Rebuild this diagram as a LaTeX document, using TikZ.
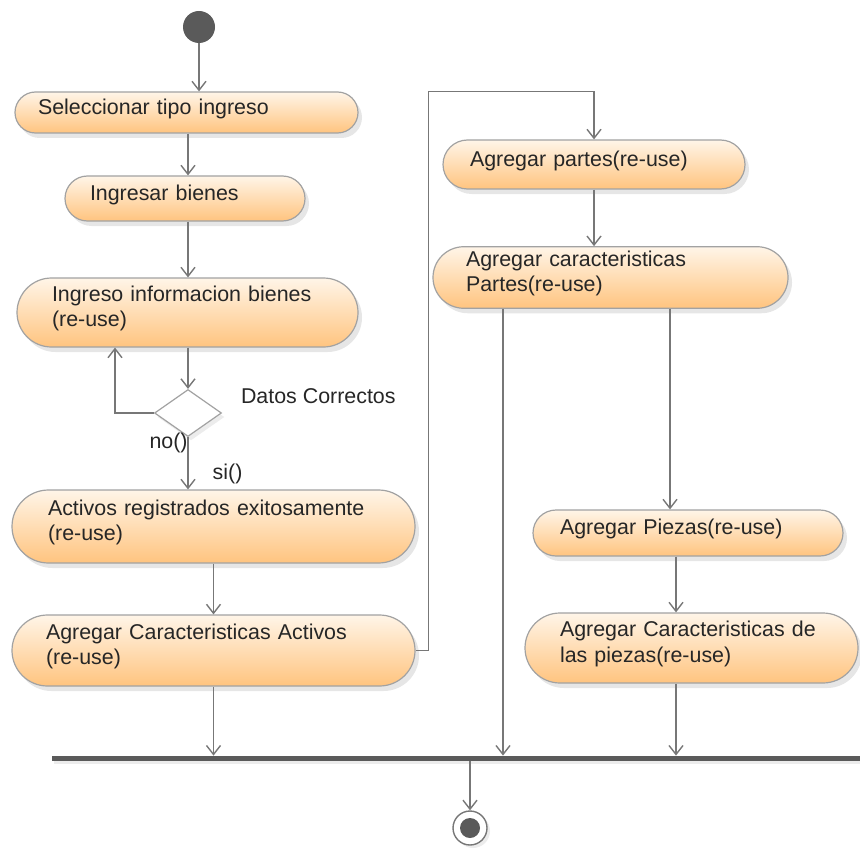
\documentclass[tikz,border=0pt]{standalone}
\usepackage{fontspec}
\setmainfont{Liberation Sans}
\usetikzlibrary{shapes.misc,shapes.geometric,arrows.meta,shadows,positioning}
\definecolor{actline}{HTML}{A2A2A2}
\definecolor{acttop}{HTML}{FFF5E8}
\definecolor{actbot}{HTML}{FFC47F}
\definecolor{flowline}{HTML}{777777}
\definecolor{dotfill}{HTML}{5A5A5A}
\tikzset{every node/.style={font=\fontsize{10.7}{12.8}\selectfont, text=black!85},
  act/.style={rounded rectangle, draw=actline, line width=0.6pt, top color=acttop, bottom color=actbot,
    drop shadow={shadow xshift=2pt, shadow yshift=-2.5pt, opacity=0.2}, align=left, inner xsep=0pt, inner ysep=2pt,
    execute at end node={\par\kern4pt}},
  flow/.style={draw=flowline, line width=0.7pt, -{Straight Barb[length=4.5pt,width=7pt]}},
  lbl/.style={inner sep=0pt}}

\begin{document}
\begin{tikzpicture}[x=0.5pt,y=-0.5pt]
   \useasboundingbox (0,0) rectangle (860,850);
   \node[circle, fill=dotfill, minimum size=16pt, inner sep=0pt] (start) at (199,27) {};
   \node[act, minimum width=171.5pt, minimum height=20.5pt, text width=148.5pt] (sel) at (186.5,112.5) {Seleccionar tipo ingreso};
   \node[act, minimum width=120pt, minimum height=22.5pt, text width=95pt] (ing) at (185,198.5) {Ingresar bienes};
   \node[act, minimum width=170.5pt, minimum height=34.5pt, text width=135.5pt] (info) at (187.5,312.5) {Ingreso informacion bienes\\(re-use)};
   \node[diamond, draw=actline, line width=0.6pt, fill=white, minimum width=33.5pt, minimum height=23.5pt, inner sep=0pt,
     drop shadow={shadow xshift=1.5pt, shadow yshift=-2pt, opacity=0.15}] (dec) at (188,413) {};
   \node[lbl, anchor=west] (cond) at ([xshift=9.25pt, yshift=8.5pt]dec.east) {Datos Correctos};
   \node[act, minimum width=201.5pt, minimum height=36.5pt, text width=165.5pt] (reg) at (213.5,526.5) {Activos registrados exitosamente\\(re-use)};
   \node[act, minimum width=201.5pt, minimum height=35.5pt, text width=167.5pt] (caract) at (213.5,650.5) {Agregar Caracteristicas Activos\\(re-use)};
   \node[act, minimum width=151pt, minimum height=24.5pt, text width=124pt] (partes) at (594,164.5) {Agregar partes(re-use)};
   \node[act, minimum width=177.5pt, minimum height=30.5pt, text width=144.5pt] (cpartes) at (610.5,277.5) {Agregar caracteristicas\\Partes(re-use)};
   \node[act, minimum width=155pt, minimum height=23pt, text width=128pt] (piezas) at (688,533) {Agregar Piezas(re-use)};
   \node[act, minimum width=166.5pt, minimum height=35pt, text width=131.5pt] (cpiezas) at (691.5,648) {Agregar Caracteristicas de\\las piezas(re-use)};
   \node[rectangle, fill=dotfill, minimum width=404pt, minimum height=2.5pt, inner sep=0pt,
     drop shadow={shadow xshift=1pt, shadow yshift=-1.5pt, opacity=0.15}] (bar) at (456,758.5) {};
   \node[circle, draw=flowline, line width=0.7pt, fill=white, minimum size=17pt, inner sep=0pt,
     drop shadow={shadow xshift=1.5pt, shadow yshift=-1.5pt, opacity=0.15}] (end) at (470,828) {};
   \fill[dotfill] (end) circle (5pt);

   \coordinate (pl) at ([xshift=-53.75pt]cpartes.south);
   \coordinate (pr) at ([xshift=29.75pt]cpartes.south);
   \coordinate (pz) at ([xshift=-6pt]piezas.south);

   \draw[flow] (start) -- (start |- sel.north);
   \draw[flow] (dec |- sel.south) -- (dec |- ing.north);
   \draw[flow] (dec |- ing.south) -- (dec |- info.north);
   \draw[flow] (dec |- info.south) -- (dec.north);
   \draw[flow] (dec.west) -| ([xshift=-36.25pt]info.south);
   \node[lbl, anchor=east] (no) at ([yshift=-3pt]dec.south) {no()};
   \draw[flow] (dec.south) -- node[lbl, pos=0.7, right=12pt] (si) {si()} (dec |- reg.north);
   \draw[flow] (reg.south) -- (caract.north);
   \draw[flow] (caract.east) -- ++(6.5pt,0) |- ([yshift=24pt]partes.north) -- (partes.north);
   \draw[flow] (partes.south) -- (partes.south |- cpartes.north);
   \draw[flow] (pl) -- (pl |- bar.north);
   \draw[flow] (pr) -- (pr |- piezas.north);
   \draw[flow] (pz) -- (pz |- cpiezas.north);
   \draw[flow] (pz |- cpiezas.south) -- (pz |- bar.north);
   \draw[flow] (caract.south) -- (caract.south |- bar.north);
   \draw[flow] (bar.south -| end) -- (end.north);
  \end{tikzpicture}
\end{document}
